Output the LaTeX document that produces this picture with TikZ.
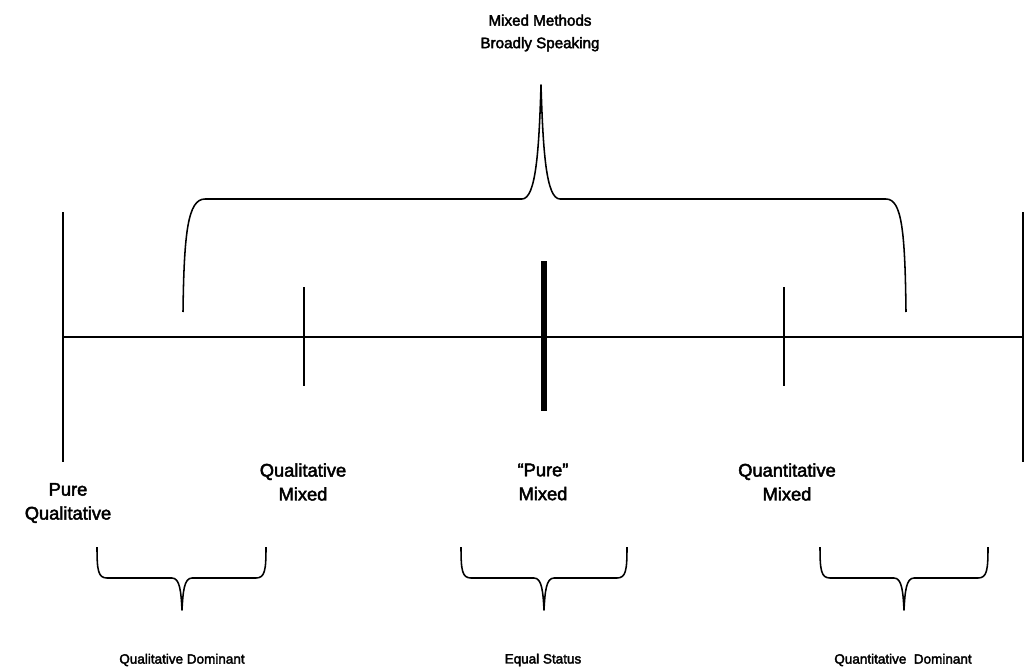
\documentclass[tikz,border=0pt]{standalone}
\usepackage{fontspec}
\setmainfont{Liberation Sans}
\newfontfamily\heavyfont{Liberation Sans}[FakeBold=2.5,Ligatures=TeX]
\usetikzlibrary{calc}
\tikzset{>=latex}
\tikzstyle{axisline}=[line width=0.9pt]
\tikzstyle{bracestyle}=[line width=1.1pt,line join=round]
\tikzstyle{midlabel}=[align=center,font=\fontsize{13}{17}\selectfont\heavyfont,inner sep=0]
\tikzstyle{smalllabel}=[align=center,font=\fontsize{9.6}{16}\selectfont\heavyfont,inner sep=0]
% brace opening upwards, pointing down: left x, tip x, right x, name of tip
\newcommand\lowBrace[4]{
	\draw[bracestyle] (#1,547) .. controls (#1,570) and (#1+1,578) .. (#1+10,578) -- (#2-10,578)
	.. controls (#2-2,578) and (#2-1,592) .. (#2,610) .. controls (#2+1,592) and (#2+2,578) .. (#2+10,578)
	-- (#3-10,578) .. controls (#3-1,578) and (#3,570) .. (#3,547);
	\coordinate (#4) at (#2,610);
}
\begin{document}
\begin{tikzpicture}[x=0.025cm,y=-0.025cm]
			\useasboundingbox (0,0) rectangle (1025,670);
			
			\def\ya{337}      % height of the axis
			\coordinate (L) at (63,\ya);
			\coordinate (R) at (1023,\ya);
			
			% AXIS
			\draw[axisline] (L) -- (R);
			\draw[axisline] (63,212) -- (63,462);
			\draw[axisline] (1023,212) -- (1023,462);
			\draw[axisline] (304,287) -- (304,386);
			\draw[axisline] (784,287) -- (784,386);
			\draw[line width=4.2pt] (544,261) -- (544,411);
			
			% BIG BRACE
			\draw[bracestyle] (183,312) .. controls (184,232) and (188,199) .. (205,199) -- (522,199)
			.. controls (536,199) and (539,150) .. (541,85) .. controls (543,150) and (546,199) .. (560,199)
			-- (886,199) .. controls (902,199) and (905,232) .. (906,312);
			\node[smalllabel,font=\fontsize{10.8}{16}\selectfont\heavyfont] (broad) at (540,33) {Mixed Methods\\Broadly Speaking};
			
			% LABELS
			\node[midlabel] (pureql) at (68,503) {Pure\\Qualitative};
			\node[midlabel] (qlmix) at (303,482) {Qualitative\\Mixed};
			\node[midlabel] (puremix) at (543,482) {“Pure”\\Mixed};
			\node[midlabel] (qnmix) at (787,482) {Quantitative\\Mixed};
			
			% SMALL BRACES
			\lowBrace{97}{182}{266}{qldTip}
			\lowBrace{461}{544}{627}{eqTip}
			\lowBrace{820}{904}{988}{qndTip}
			\node[smalllabel] (qldom) at (182,660) {Qualitative Dominant};
			\node[smalllabel] (eqstat) at (543,660) {Equal Status};
			\node[smalllabel] (qndom) at (903,660) {Quantitative\ \ Dominant};
			
		\end{tikzpicture}
\end{document}
